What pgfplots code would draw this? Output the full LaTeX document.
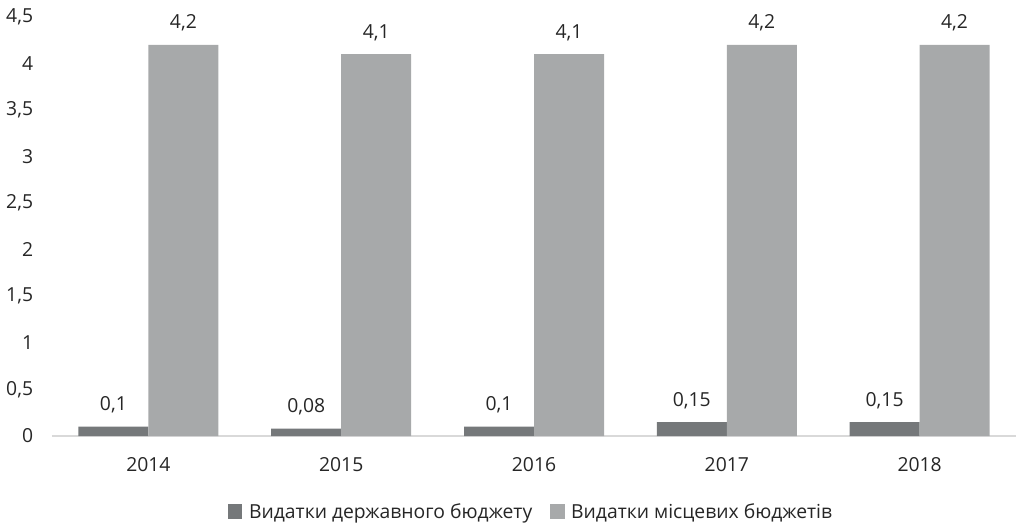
\documentclass[border=0pt]{standalone}
\usepackage{pgfplots}
\pgfplotsset{compat=1.18}
\usepackage{fontspec}
\setmainfont{Open Sans}
\definecolor{darkbar}{RGB}{117,120,122}
\definecolor{lightbar}{RGB}{167,169,170}
\definecolor{txtcol}{RGB}{38,38,38}
\definecolor{axisgray}{RGB}{217,217,217}
\begin{document}
\begin{tikzpicture}
\begin{axis}[
  scale only axis,
  width=723pt, height=314.25pt,
  xmin=-0.5, xmax=4.5,
  ymin=0, ymax=4.5,
  ytick={0,0.5,1,1.5,2,2.5,3,3.5,4,4.5},
  yticklabels={0,{0,5},1,{1,5},2,{2,5},3,{3,5},4,{4,5}},
  xtick={0,1,2,3,4},
  xticklabels={2014,2015,2016,2017,2018},
  axis x line*=bottom,
  axis y line*=left,
  x axis line style={-, draw=axisgray, line width=1.1pt},
  y axis line style={draw=none},
  major tick length=0pt,
  ybar, bar width=52.5pt,
  tick label style={text=txtcol, font=\fontsize{14.5}{17}\selectfont},
  yticklabel style={inner sep=0pt, anchor=east, xshift=-14pt},
  xticklabel style={inner sep=0pt, anchor=north, yshift=-15.75pt},
  point meta=explicit symbolic,
  nodes near coords,
  nodes near coords style={anchor=base, inner sep=0pt, yshift=12pt, text=txtcol, font=\fontsize{14.5}{17}\selectfont},
  legend columns=2,
  legend style={draw=none, at={(0.497,-0.181)}, anchor=center, font=\fontsize{14.5}{17}\selectfont, text=txtcol,
    /tikz/every odd column/.append style={column sep=3pt},
    /tikz/every even column/.append style={column sep=11pt}},
  legend cell align=left,
  clip=false,
]
\addplot[fill=darkbar, draw=none, bar shift=-26.25pt,
  legend image code/.code={\fill[darkbar] (0pt,-5.6pt) rectangle (11.2pt,5.6pt);}]
  coordinates {(0,0.1) [0,1] (1,0.08) [0,08] (2,0.1) [0,1] (3,0.15) [0,15] (4,0.15) [0,15]};
\addplot[fill=lightbar, draw=none, bar shift=26.25pt,
  legend image code/.code={\fill[lightbar] (0pt,-5.6pt) rectangle (11.2pt,5.6pt);}]
  coordinates {(0,4.2) [4,2] (1,4.1) [4,1] (2,4.1) [4,1] (3,4.2) [4,2] (4,4.2) [4,2]};
\legend{Видатки державного бюджету, Видатки місцевих бюджетів}
\end{axis}
\pgfresetboundingbox
\path[use as bounding box] (-39pt,-69pt) rectangle (723pt,327pt);
\end{tikzpicture}
\end{document}
